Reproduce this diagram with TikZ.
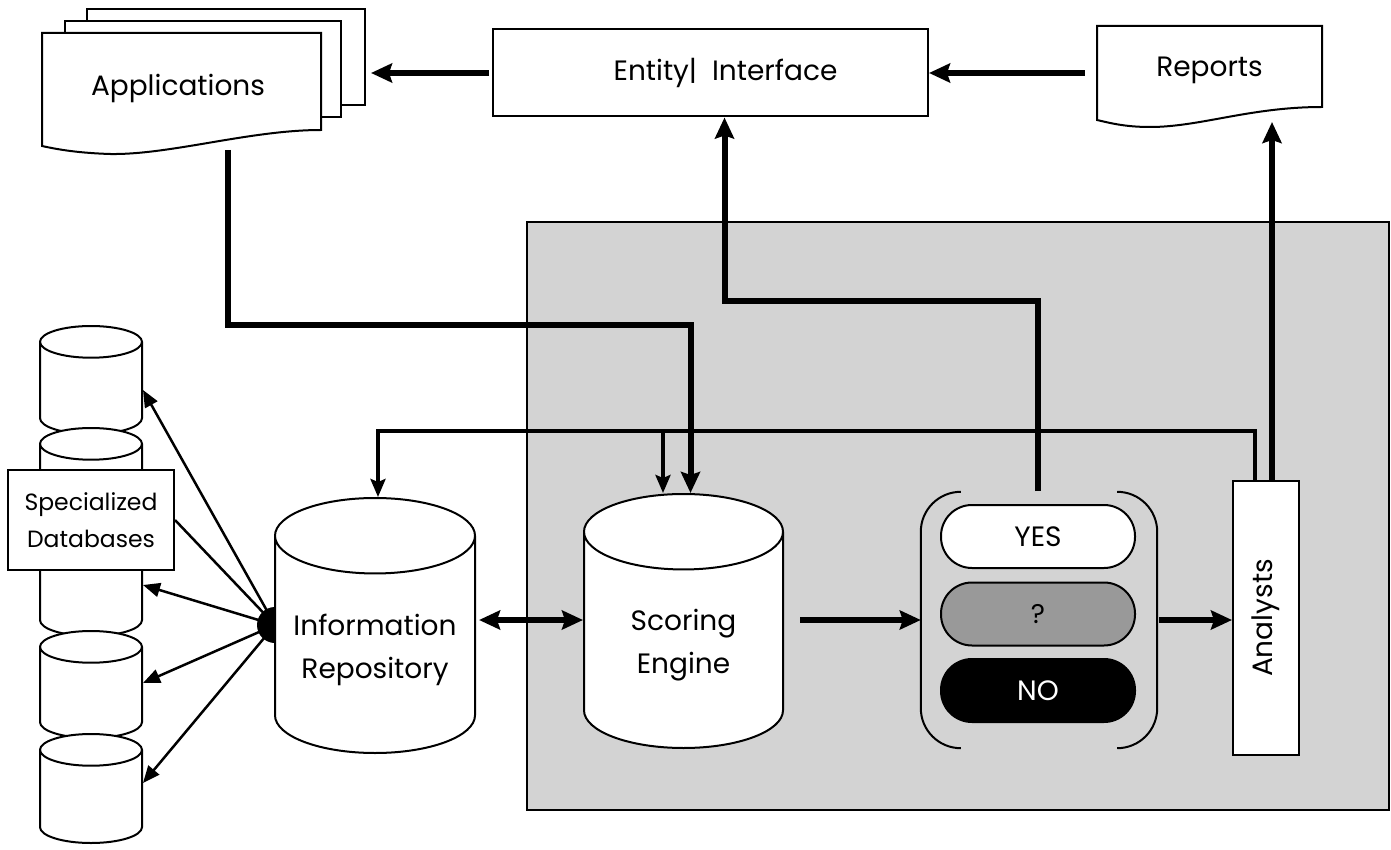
\documentclass[tikz,border=0pt]{standalone}
\usepackage{fontspec}
\setmainfont{Poppins}
\usetikzlibrary{arrows.meta,shapes.geometric}
\tikzset{>={Stealth[length=21pt,width=19pt,inset=3pt]}}
\definecolor{panelgray}{RGB}{211,211,211}
\definecolor{maybegray}{RGB}{153,153,153}

\begin{document}
\begin{tikzpicture}[x={(1pt,0)}, y={(0,-1pt)},
  txt/.style={font=\fontsize{28}{43}\selectfont, align=center},
  sheet/.style={draw, fill=white, line width=2pt},
  drum/.style={cylinder, shape border rotate=90, draw, fill=white, line width=2pt, aspect=0.4, anchor=north, txt, text width=182pt},
  smalldrum/.style={drum, text width=84pt, aspect=0.35, minimum width=102pt},
  pill/.style={draw, line width=2pt, rounded corners=31pt, minimum width=194pt, minimum height=63pt, txt},
  bigflow/.style={->, line width=6pt},
  flow/.style={->, line width=3.5pt, >={Stealth[length=18pt,width=15pt,inset=3pt]}},
  fan/.style={line width=2.5pt, -{Triangle[length=17pt,width=14pt]}}]
  \useasboundingbox (0,0) rectangle (1391,850);

  % grey panel behind the scoring part
  \node (panel) [draw, line width=2pt, fill=panelgray, minimum width=862pt, minimum height=588pt] at (958,516) {};

  % specialized databases
  \node (db1) [smalldrum, minimum height=108pt] at (91,325) {};
  \node (db2) [smalldrum, minimum height=208pt] at (91,427) {};
  \node (db3) [smalldrum, minimum height=107pt] at (91,630) {};
  \node (db4) [smalldrum, minimum height=109pt] at (91,733) {};
  \node (spec) [sheet, txt, font=\fontsize{23.5}{37}\selectfont, minimum width=166pt, minimum height=100pt] at (91,520) {Specialized\\Databases};

  \coordinate (hub) at (275,625);
  \fill (hub) circle[radius=18pt];
  \draw[fan] (hub) -- (143,390);
  \draw[line width=2.5pt] (hub) -- (spec.east);
  \draw[fan] (hub) -- (143,585);
  \draw[fan] (hub) -- (143,683);
  \draw[fan] (hub) -- (143,783);

  \node (repo) [drum, minimum width=200pt, minimum height=255pt] at (375,497) {Information\\Repository};
  \node (scoring) [drum, minimum width=199pt, minimum height=254pt] at (683.5,493) {Scoring\\Engine};

  % decision bracket
  \node (verdict) [minimum width=236pt, minimum height=256pt] at (1039,620) {};
  \draw[line width=2pt, rounded corners=40pt] ([xshift=40pt]verdict.north west) -- (verdict.north west) -- (verdict.south west) -- ([xshift=40pt]verdict.south west);
  \draw[line width=2pt, rounded corners=40pt] ([xshift=-40pt]verdict.north east) -- (verdict.north east) -- (verdict.south east) -- ([xshift=-40pt]verdict.south east);
  \node (yes) [pill, fill=white] at (1038,536.5) {YES};
  \node (maybe) [pill, fill=maybegray, font=\fontsize{27}{30}\selectfont] at (1038,614) {?};
  \node (no) [pill, fill=black, text=white] at (1038,690.5) {NO};

  \node (analysts) [sheet, txt, minimum width=66pt, minimum height=274pt] at (1266,618) {\rotatebox{90}{Analysts}};

  % applications stack
  \node (apps3) [sheet, minimum width=278pt, minimum height=96pt] at (226,57) {};
  \node (apps2) [sheet, minimum width=276pt, minimum height=96pt] at (203,69) {};
  \draw[sheet] (42,33) -- (321,33) -- (321,130) .. controls (250,130) and (170,155) .. (110,154) .. controls (80,153) and (60,150) .. (42,146) -- cycle;
  \node (apps) [txt] at (178,88) {Applications};
  \coordinate (appsout) at (228,150);

  \node (entity) [sheet, txt, minimum width=435pt, minimum height=87pt] at (710.5,73) {\hspace*{30pt}Entity|\ \ Interface};

  % reports sheet
  \draw[sheet] (1097,26) -- (1322,26) -- (1322,107) .. controls (1250,107) and (1200,127) .. (1150,127) .. controls (1125,127) and (1110,123) .. (1097,120) -- cycle;
  \node (reports) [txt, minimum width=225pt, minimum height=88pt] at (1209.5,70) {Reports};
  \coordinate (reptip) at (1272,122);

  \draw[bigflow] ([xshift=-12pt]reports.west |- entity.east) -- (entity.east);
  \draw[bigflow] ([xshift=-3pt]entity.west) -- ([xshift=5pt]apps3.east |- entity.west);
  \draw[bigflow] (appsout) -- ++(0,175) -| ([xshift=7pt]scoring.north);
  \draw[bigflow] ([yshift=13pt]yes.north) -- ++(0,-190) -| ([xshift=14pt]entity.south);
  \draw[bigflow] (reptip |- analysts.north) -- (reptip);
  \draw[flow] ([xshift=-11pt]analysts.north) -- ++(0,-49) -| ([xshift=3pt]repo.north);
  \coordinate (split) at (663,432);
  \draw[flow] (split) -- (split |- scoring.north);
  \draw[bigflow] ([xshift=16pt]scoring.east |- verdict.center) -- (verdict.west |- verdict.center);
  \draw[bigflow] ([xshift=2pt]verdict.east) -- (analysts.west |- verdict.center);
  \draw[bigflow, <->] ([xshift=3pt]repo.east |- verdict.center) -- (scoring.west |- verdict.center);
\end{tikzpicture}
\end{document}
